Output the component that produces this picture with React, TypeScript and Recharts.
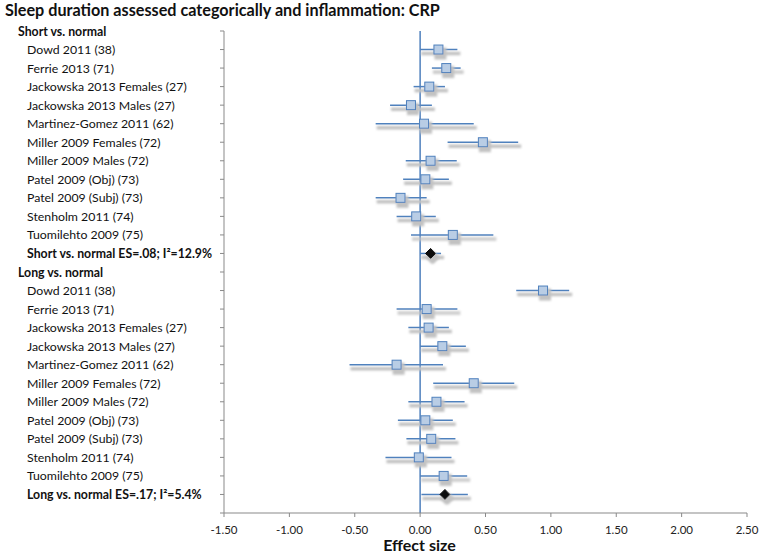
import React from 'react';
import { ScatterChart, Scatter, XAxis, YAxis, ErrorBar, ReferenceLine, Label } from 'recharts';

const studyNames = [
    'Dowd 2011 (38)',
    'Ferrie 2013 (71)',
    'Jackowska 2013 Females (27)',
    'Jackowska 2013 Males (27)',
    'Martinez-Gomez 2011 (62)',
    'Miller 2009 Females (72)',
    'Miller 2009 Males (72)',
    'Patel 2009 (Obj) (73)',
    'Patel 2009 (Subj) (73)',
    'Stenholm 2011 (74)',
    'Tuomilehto 2009 (75)',
];

const shortEs = [0.14, 0.2, 0.07, -0.07, 0.03, 0.48, 0.08, 0.04, -0.15, -0.03, 0.25];
const shortLow = [0.0, 0.09, -0.05, -0.23, -0.34, 0.21, -0.11, -0.13, -0.34, -0.18, -0.07];
const shortHigh = [0.285, 0.31, 0.19, 0.09, 0.41, 0.75, 0.28, 0.22, 0.05, 0.12, 0.56];

const longEs = [0.94, 0.05, 0.065, 0.17, -0.18, 0.41, 0.125, 0.04, 0.085, -0.01, 0.18];
const longLow = [0.735, -0.18, -0.09, 0.0, -0.54, 0.1, -0.09, -0.17, -0.105, -0.265, 0.0];
const longHigh = [1.14, 0.285, 0.22, 0.35, 0.175, 0.72, 0.34, 0.25, 0.27, 0.24, 0.36];

const pooledEs = [0.08, 0.19];
const pooledLow = [0.0, 0.01];
const pooledHigh = [0.16, 0.365];

const rowLabels = [
    'Short vs. normal',
    ...studyNames,
    'Short vs. normal ES=.08; I\u00b2=12.9%',
    'Long vs. normal',
    ...studyNames,
    'Long vs. normal ES=.17; I\u00b2=5.4%',
];
const headerRows = [0, 13];
const pooledRows = [12, 25];
const xTicks = [-1.5, -1, -0.5, 0, 0.5, 1, 1.5, 2, 2.5];
const yTicks = [...rowLabels.map((_, i) => i), rowLabels.length];

const FONT = 'Lato, "Open Sans", sans-serif';
const BLUE = '#4f81bd';
const GREY = '#898989';
const SHADOW = 'url(#fpShadow)';

const studyData = [
    ...studyNames.map((name, i) => ({
        name,
        row: 1 + i,
        es: shortEs[i],
        err: [shortEs[i] - shortLow[i], shortHigh[i] - shortEs[i]],
    })),
    ...studyNames.map((name, i) => ({
        name,
        row: 14 + i,
        es: longEs[i],
        err: [longEs[i] - longLow[i], longHigh[i] - longEs[i]],
    })),
];

const pooledData = pooledRows.map((row, i) => ({
    row,
    es: pooledEs[i],
    err: [pooledEs[i] - pooledLow[i], pooledHigh[i] - pooledEs[i]],
}));

function RowLabel(props: any) {
    const { y, payload } = props;
    const i = payload.value;
    const text = rowLabels[i];
    if (!text) return null;
    const header = headerRows.includes(i);
    const bold = header || pooledRows.includes(i);
    return (
        <text
            x={header ? 18 : 27}
            y={y}
            dominantBaseline="central"
            textAnchor="start"
            fontFamily={FONT}
            fontSize={12.3}
            fontWeight={bold ? 700 : 400}
            fill="#111"
        >
            {text}
        </text>
    );
}

function squareMarker(props: any) {
    const { cx, cy } = props;
    return (
        <rect
            x={cx - 4.5}
            y={cy - 4.5}
            width={9}
            height={9}
            fill="#b9cde5"
            stroke={BLUE}
            strokeWidth={1}
            filter={SHADOW}
        />
    );
}

function diamondMarker(props: any) {
    const { cx, cy } = props;
    const r = 5;
    return (
        <polygon
            points={`${cx},${cy - r} ${cx + r},${cy} ${cx},${cy + r} ${cx - r},${cy}`}
            fill="#111"
            stroke="#000"
            strokeWidth={1}
            filter={SHADOW}
        />
    );
}

export default function App() {
    return (
        <div style={{ position: 'absolute', left: 0, top: 0, width: 761, height: 555, background: '#fff' }}>
            <svg width={1} height={1} style={{ position: 'absolute', left: 0, top: 0 }}>
                <defs>
                    <filter id="fpShadow" filterUnits="userSpaceOnUse" x={0} y={0} width={761} height={555}>
                        <feMorphology in="SourceAlpha" operator="dilate" radius={1} result="thick" />
                        <feGaussianBlur in="thick" stdDeviation={0.8} result="blur" />
                        <feOffset in="blur" dx={2} dy={4} result="moved" />
                        <feFlood floodColor="#c2c2c2" />
                        <feComposite in2="moved" operator="in" result="shadow" />
                        <feMerge>
                            <feMergeNode in="shadow" />
                            <feMergeNode in="SourceGraphic" />
                        </feMerge>
                    </filter>
                </defs>
            </svg>
            <div
                style={{
                    position: 'absolute',
                    left: 5,
                    top: 0,
                    fontFamily: FONT,
                    fontWeight: 700,
                    fontSize: 16.2,
                    lineHeight: '19px',
                    color: '#111',
                    whiteSpace: 'nowrap',
                }}
            >
                Sleep duration assessed categorically and inflammation: CRP
            </div>
            <ScatterChart width={761} height={555} margin={{ top: 31, right: 14, bottom: 0, left: 0 }}>
                <XAxis
                    type="number"
                    dataKey="es"
                    domain={[-1.5, 2.5]}
                    ticks={xTicks}
                    interval={0}
                    height={42}
                    stroke={GREY}
                    tickSize={4}
                    tickMargin={9}
                    tickFormatter={(v: number) => v.toFixed(2)}
                    tick={{ fill: '#222', fontSize: 11.5, fontFamily: FONT }}
                >
                    <Label
                        value="Effect size"
                        position="insideBottom"
                        offset={4}
                        dx={-66}
                        style={{ fontFamily: FONT, fontWeight: 700, fontSize: 16, fill: '#111' }}
                    />
                </XAxis>
                <YAxis
                    type="number"
                    dataKey="row"
                    domain={[0, 26]}
                    ticks={yTicks}
                    interval={0}
                    reversed
                    width={224}
                    stroke={GREY}
                    tickSize={4}
                    tick={<RowLabel />}
                />
                <ReferenceLine x={0} stroke={BLUE} strokeWidth={1.5} />
                <Scatter data={studyData} shape={squareMarker} isAnimationActive={false}>
                    <ErrorBar dataKey="err" direction="x" width={0} stroke={BLUE} strokeWidth={1.5} filter={SHADOW} />
                </Scatter>
                <Scatter data={pooledData} shape={diamondMarker} isAnimationActive={false}>
                    <ErrorBar dataKey="err" direction="x" width={0} stroke={BLUE} strokeWidth={1.5} filter={SHADOW} />
                </Scatter>
            </ScatterChart>
        </div>
    );
}
